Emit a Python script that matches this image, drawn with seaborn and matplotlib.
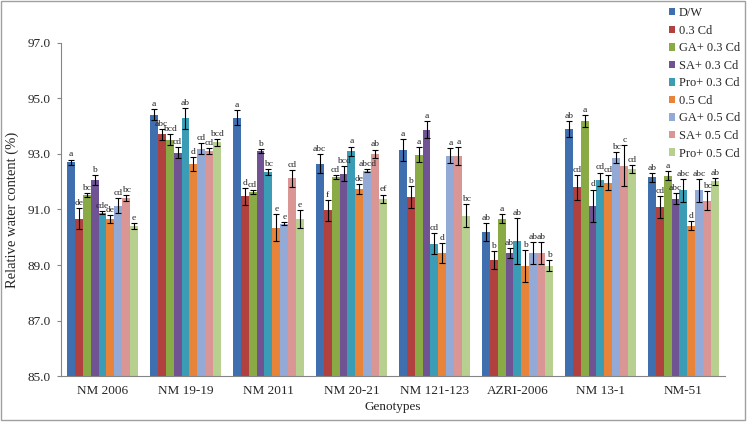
import numpy as np
import pandas as pd
import seaborn as sns
import matplotlib
matplotlib.use("Agg")
import matplotlib.pyplot as plt
from matplotlib.patches import Patch, Rectangle

genotypes = ["NM 2006", "NM 19-19", "NM 2011", "NM 20-21", "NM 121-123",
             "AZRI-2006", "NM 13-1", "NM-51"]
treatments = ["D/W", "0.3 Cd", "GA+ 0.3 Cd", "SA+ 0.3 Cd", "Pro+ 0.3 Cd",
              "0.5 Cd", "GA+ 0.5 Cd", "SA+ 0.5 Cd", "Pro+ 0.5 Cd"]

dw = [92.70, 94.42, 94.30, 92.65, 93.13, 90.19, 93.91, 92.16]
cd03 = [90.67, 93.71, 91.47, 90.97, 91.44, 89.19, 91.80, 91.08]
ga03 = [91.52, 93.51, 91.62, 92.17, 92.98, 90.66, 94.18, 92.22]
sa03 = [92.06, 93.04, 93.10, 92.29, 93.88, 89.43, 91.14, 91.39]
pro03 = [90.88, 94.28, 92.36, 93.09, 89.77, 89.86, 92.08, 91.69]
cd05 = [90.66, 92.64, 90.34, 91.75, 89.42, 88.96, 91.96, 90.42]
ga05 = [91.14, 93.19, 90.49, 92.40, 92.94, 89.43, 92.86, 91.69]
sa05 = [91.41, 93.10, 92.12, 93.01, 92.92, 89.43, 92.58, 91.32]
pro05 = [90.40, 93.42, 90.66, 91.38, 90.78, 88.98, 92.46, 92.01]

err_dw = [0.10, 0.20, 0.27, 0.34, 0.40, 0.31, 0.28, 0.16]
err_cd03 = [0.38, 0.20, 0.30, 0.37, 0.39, 0.32, 0.44, 0.40]
err_ga03 = [0.07, 0.20, 0.07, 0.07, 0.28, 0.16, 0.22, 0.16]
err_sa03 = [0.17, 0.20, 0.07, 0.28, 0.30, 0.18, 0.58, 0.20]
err_pro03 = [0.05, 0.39, 0.10, 0.18, 0.37, 0.83, 0.25, 0.42]
err_cd05 = [0.15, 0.25, 0.49, 0.18, 0.36, 0.57, 0.27, 0.15]
err_ga05 = [0.28, 0.20, 0.05, 0.05, 0.26, 0.40, 0.20, 0.42]
err_sa05 = [0.10, 0.10, 0.31, 0.15, 0.32, 0.40, 0.73, 0.33]
err_pro05 = [0.10, 0.13, 0.33, 0.16, 0.41, 0.21, 0.13, 0.12]

let_dw = ["a", "a", "a", "abc", "a", "ab", "ab", "ab"]
let_cd03 = ["de", "abc", "d", "f", "b", "b", "cd", "cd"]
let_ga03 = ["bc", "bcd", "cd", "cd", "a", "a", "a", "a"]
let_sa03 = ["b", "cd", "b", "bcd", "a", "ab", "d", "abc"]
let_pro03 = ["cde", "ab", "bc", "a", "cd", "ab", "cd", "abc"]
let_cd05 = ["de", "d", "e", "de", "d", "b", "cd", "d"]
let_ga05 = ["cd", "cd", "e", "abcd", "a", "ab", "bc", "abc"]
let_sa05 = ["bc", "cd", "cd", "ab", "a", "ab", "c", "bc"]
let_pro05 = ["e", "bcd", "e", "ef", "bc", "b", "cd", "ab"]

values = [dw, cd03, ga03, sa03, pro03, cd05, ga05, sa05, pro05]
errors = [err_dw, err_cd03, err_ga03, err_sa03, err_pro03, err_cd05, err_ga05, err_sa05, err_pro05]
letters = [let_dw, let_cd03, let_ga03, let_sa03, let_pro03, let_cd05, let_ga05, let_sa05, let_pro05]

colors = ["#3F6FAE", "#B0413E", "#8AAA45", "#6F5393", "#3A9DB5",
          "#E8843A", "#93A9D6", "#D99694", "#B8D08F"]

rows = []
for t, vals in zip(treatments, values):
    for g, v in zip(genotypes, vals):
        rows.append({"Genotype": g, "Treatment": t, "RWC": v})
df = pd.DataFrame(rows)

sns.set_style("white")
plt.rcParams["font.family"] = ["Liberation Serif", "DejaVu Serif"]

fig = plt.figure(figsize=(7.49, 4.24), dpi=100)
ax = fig.add_axes([0.0814, 0.1132, 0.8865, 0.7854])

sns.barplot(data=df, x="Genotype", y="RWC", hue="Treatment",
            order=genotypes, hue_order=treatments, palette=colors,
            width=0.86, errorbar=None, ax=ax, saturation=1, linewidth=0)

bar_containers = list(ax.containers)
for ci, cont in enumerate(bar_containers):
    for gi, bar in enumerate(cont.patches):
        x = bar.get_x() + bar.get_width() / 2
        v = values[ci][gi]
        e = errors[ci][gi]
        ax.errorbar(x, v, yerr=e, fmt="none", ecolor="black",
                    elinewidth=0.8, capsize=2.5, capthick=0.8, zorder=5)
        ax.text(x, v + e + 0.04, letters[ci][gi], ha="center", va="bottom",
                fontsize=6.8, color="#222222", zorder=6)

ax.set_ylim(85, 97)
ax.set_yticks(np.arange(85, 97.1, 2))
ax.set_yticklabels([f"{t:.1f}" for t in np.arange(85, 97.1, 2)], fontsize=9.5)
ax.set_xlim(-0.5, len(genotypes) - 0.5)
ax.set_xticks(range(len(genotypes)))
ax.set_xticklabels(genotypes, fontsize=9.5)
ax.tick_params(axis="x", which="major", length=0, pad=6.5)
ax.set_xticks(np.arange(-0.5, len(genotypes), 1), minor=True)
ax.tick_params(axis="x", which="minor", length=4, color="#868686", direction="out")
ax.tick_params(axis="y", length=3, color="#868686", direction="out", left=True, pad=4.5)

ax.set_xlabel("Genotypes", fontsize=9.5, labelpad=3)
ax.set_ylabel("Relative water content (%)", fontsize=10.5, labelpad=6)

for s in ["top", "right"]:
    ax.spines[s].set_visible(False)
for s in ["left", "bottom"]:
    ax.spines[s].set_color("#868686")
    ax.spines[s].set_linewidth(0.8)

if ax.get_legend() is not None:
    ax.get_legend().remove()
handles = [Patch(facecolor=c, edgecolor="none") for c in colors]
fig.legend(handles, treatments, loc="upper left",
           bbox_to_anchor=(0.886, 0.995), frameon=False, fontsize=8.9,
           handlelength=0.55, handleheight=0.55, handletextpad=0.3,
           labelspacing=0.45, borderaxespad=0)

fig.patches.append(Rectangle((0.0015, 0.0094), 0.993, 0.988, transform=fig.transFigure,
                             fill=False, edgecolor="#A0A0A0", linewidth=1.0))

fig.savefig("out.png", dpi=100)
